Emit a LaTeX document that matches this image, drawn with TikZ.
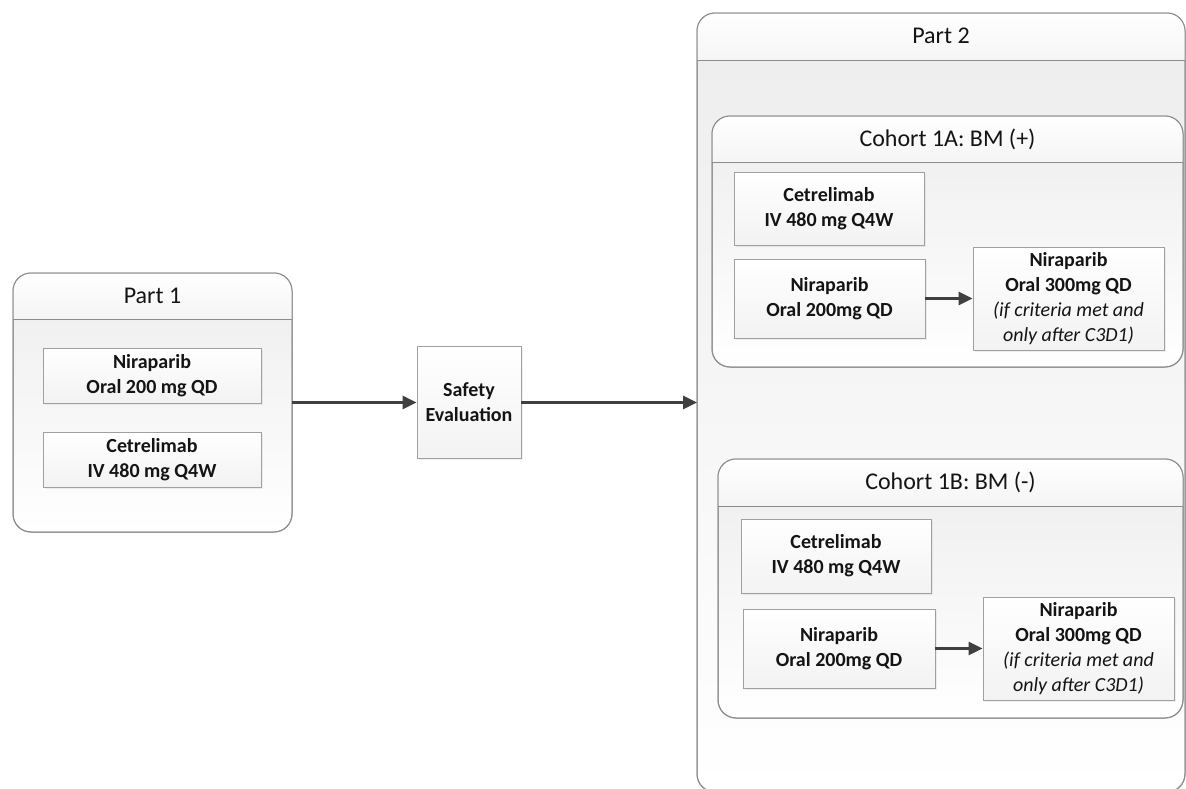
\documentclass[tikz,border=0pt]{standalone}
\usepackage{fontspec}
\setmainfont{Carlito}
\usepackage{tikz}
\usetikzlibrary{positioning, calc, arrows.meta, shadows}

\definecolor{boxline}{HTML}{A0A0A0}
\definecolor{partline}{HTML}{8C8C8C}
\definecolor{bodygray}{HTML}{EDEDED}
\definecolor{arrowgray}{HTML}{404040}
\definecolor{txt}{HTML}{141414}

\begin{document}
\begin{tikzpicture}[x=1pt, y=-1pt, font=\fontsize{20}{25}\selectfont, text=txt]
    \tikzstyle{container}=[rectangle, draw=partline, line width=1pt, rounded corners=18pt, outer sep=0pt, top color=bodygray, bottom color=white]
    \tikzstyle{frame}=[draw=partline, line width=1pt, rounded corners=18pt]
    \tikzstyle{header}=[top color=white, bottom color=black!4]
    \tikzstyle{title}=[font=\fontsize{24}{30}\selectfont]
    \tikzstyle{dose}=[rectangle, draw=boxline, line width=0.8pt, top color=white, bottom color=black!5, align=center, inner sep=2pt, font=\fontsize{20}{25}\selectfont\bfseries, drop shadow={opacity=0.12, shadow xshift=1.5pt, shadow yshift=-1.5pt}]
    \tikzstyle{flow}=[draw=arrowgray, line width=2.8pt, -{Triangle[length=14pt, width=13pt]}]

    \useasboundingbox (0,0) rectangle (1186,788);

    % Part 1
    \node[container, minimum width=279pt, minimum height=259pt] (part1) at (152.5,402.5) {};
    \begin{scope}
        \clip[rounded corners=18pt] (part1.north west) rectangle (part1.south east);
        \fill[header] (part1.north west) rectangle (292,319);
    \end{scope}
    \draw[frame] (part1.north west) rectangle (part1.south east);
    \draw[partline, line width=1pt] (part1.west |- 0,319) -- (part1.east |- 0,319);
    \node[title] (part1title) at (152.5,296) {Part 1};
    \node[dose, minimum width=218pt, minimum height=55pt] (nira1) at (152,375.5) {Niraparib\\Oral 200 mg QD};
    \node[dose, minimum width=218pt, minimum height=55pt] (cetre1) at (152,459.5) {Cetrelimab\\IV 480 mg Q4W};

    % safety step
    \node[dose, minimum width=104pt, minimum height=112pt] (safety) at (469,402.5) {Safety\\Evaluation};

    % Part 2
    \node[container, minimum width=488pt, minimum height=779pt] (part2) at (941,402.5) {};
    \begin{scope}
        \clip[rounded corners=18pt] (part2.north west) rectangle (part2.south east);
        \fill[header] (part2.north west) rectangle (1185,60);
    \end{scope}
    \draw[frame] (part2.north west) rectangle (part2.south east);
    \draw[partline, line width=1pt] (part2.west |- 0,60) -- (part2.east |- 0,60);
    \node[title] (part2title) at (941,36) {Part 2};

    % Cohort 1A
    \node[container, minimum width=471pt, minimum height=251pt] (cohA) at (947.5,241.5) {};
    \begin{scope}
        \clip[rounded corners=18pt] (cohA.north west) rectangle (cohA.south east);
        \fill[header] (cohA.north west) rectangle (1183,162);
    \end{scope}
    \draw[frame] (cohA.north west) rectangle (cohA.south east);
    \draw[partline, line width=1pt] (cohA.west |- 0,162) -- (cohA.east |- 0,162);
    \node[title] (cohAtitle) at (947.5,139) {Cohort 1A: BM (+)};
    \node[dose, minimum width=190pt, minimum height=73pt] (cetreA) at (829,208.5) {Cetrelimab\\IV 480 mg Q4W};
    \node[dose, minimum width=191pt, minimum height=79pt] (niraA) at (829.5,298.5) {Niraparib\\Oral 200mg QD};
    \node[dose, minimum width=191pt, minimum height=103pt] (escA) at (1068.5,298.5) {Niraparib\\Oral 300mg QD\\\mdseries\itshape(if criteria met and\\\mdseries\itshape only after C3D1)};

    % Cohort 1B
    \node[container, minimum width=465pt, minimum height=259pt] (cohB) at (950.5,588.5) {};
    \begin{scope}
        \clip[rounded corners=18pt] (cohB.north west) rectangle (cohB.south east);
        \fill[header] (cohB.north west) rectangle (1183,506);
    \end{scope}
    \draw[frame] (cohB.north west) rectangle (cohB.south east);
    \draw[partline, line width=1pt] (cohB.west |- 0,506) -- (cohB.east |- 0,506);
    \node[title] (cohBtitle) at (950.5,482) {Cohort 1B: BM (-)};
    \node[dose, minimum width=190pt, minimum height=74pt] (cetreB) at (836,556) {Cetrelimab\\IV 480 mg Q4W};
    \node[dose, minimum width=192pt, minimum height=79pt] (niraB) at (839,648.5) {Niraparib\\Oral 200mg QD};
    \node[dose, minimum width=191pt, minimum height=103pt] (escB) at (1078.5,648.5) {Niraparib\\Oral 300mg QD\\\mdseries\itshape(if criteria met and\\\mdseries\itshape only after C3D1)};

    % arrows
    \draw[flow] (part1.east) -- (safety.west);
    \draw[flow] (safety.east) -- (safety.east -| part2.west);
    \draw[flow] (niraA.east) -- (escA.west);
    \draw[flow] (niraB.east) -- (escB.west);
\end{tikzpicture}
\end{document}
